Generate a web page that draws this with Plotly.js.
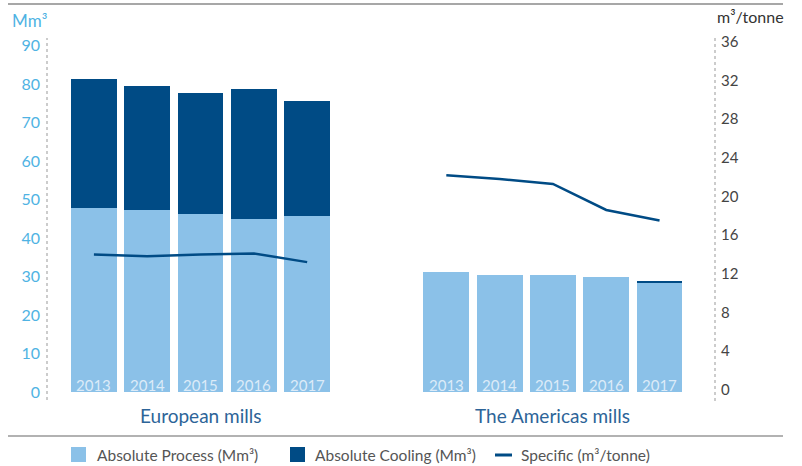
<!DOCTYPE html>
<html>
<head>
<meta charset="utf-8">
<script src="https://cdn.plot.ly/plotly-3.0.1.min.js"></script>
<style>html,body{margin:0;padding:0;background:#fff;}#chart{width:802px;height:466px;}</style>
</head>
<body>
<div id="chart"></div>
<script>
// ---- data ----
const years = ['2013', '2014', '2015', '2016', '2017'];
const groups = ['European mills', 'The Americas mills'];
const euProcess = [47.8, 47.3, 46.2, 44.9, 45.7];
const euCooling = [33.5, 32.2, 31.5, 33.8, 29.9];
const amProcess = [31.1, 30.4, 30.4, 29.8, 28.4];
const amCooling = [0, 0, 0, 0, 0.3];
const euSpecific = [14.0, 13.8, 14.0, 14.1, 13.2];
const amSpecific = [22.2, 21.8, 21.3, 18.6, 17.5];
const leftTicks = [0, 10, 20, 30, 40, 50, 60, 70, 80, 90];
const rightTicks = [0, 4, 8, 12, 16, 20, 24, 28, 32, 36];
const seriesNames = ['Absolute Process (Mm\u00b3)', 'Absolute Cooling (Mm\u00b3)', 'Specific (m\u00b3/tonne)'];

// ---- styling / layout helpers ----
const LIGHT = '#8bc1e8', DARK = '#004b85';
const FONT = 'Lato, "Open Sans", sans-serif';
const W = 802, H = 466, ML = 47, MR = 87, MT = 38, MB = 66;
const PW = W - ML - MR, PH = H - MT - MB;
const px = x => (x - ML) / PW;
const py = y => (H - MB - y) / PH;
const GAP = 6.61;
const euX = years.map((_, i) => i);
const amX = years.map((_, i) => i + GAP);
const allX = euX.concat(amX);

const traces = [
  {type: 'bar', x: allX, y: euProcess.concat(amProcess), name: seriesNames[0],
   marker: {color: LIGHT}, width: 0.86, hoverinfo: 'y'},
  {type: 'bar', x: allX, y: euCooling.concat(amCooling), name: seriesNames[1],
   marker: {color: DARK}, width: 0.86, hoverinfo: 'y'},
  {type: 'scatter', mode: 'lines', x: euX, y: euSpecific, yaxis: 'y2', name: seriesNames[2],
   line: {color: DARK, width: 2.5}},
  {type: 'scatter', mode: 'lines', x: amX, y: amSpecific, yaxis: 'y2', name: seriesNames[2],
   line: {color: DARK, width: 2.5}, showlegend: false}
];

const annotations = [];
allX.forEach((x, i) => {
  annotations.push({x: x, y: 0, xref: 'x', yref: 'y', text: years[i % years.length],
    showarrow: false, yanchor: 'middle', yshift: 7,
    font: {family: FONT, size: 15, color: '#dcebf8'}});
});
annotations.push({x: 2, y: py(415), xref: 'x', yref: 'paper', text: groups[0], showarrow: false,
  yanchor: 'middle', font: {family: FONT, size: 19, color: '#2d6498'}});
annotations.push({x: 2 + GAP, y: py(415), xref: 'x', yref: 'paper', text: groups[1], showarrow: false,
  yanchor: 'middle', font: {family: FONT, size: 19, color: '#2d6498'}});
annotations.push({x: px(10), y: py(20), xref: 'paper', yref: 'paper', text: 'Mm\u00b3', showarrow: false,
  xanchor: 'left', yanchor: 'middle', font: {family: FONT, size: 17, color: '#4fb3e3'}});
annotations.push({x: px(715), y: py(16), xref: 'paper', yref: 'paper', text: 'm\u00b3/tonne', showarrow: false,
  xanchor: 'left', yanchor: 'middle', font: {family: FONT, size: 16, color: '#333'}});
// legend texts
const legX = [95, 313, 519];
legX.forEach((lx, i) => {
  annotations.push({x: px(lx), y: py(455), xref: 'paper', yref: 'paper', text: seriesNames[i], showarrow: false,
    xanchor: 'left', yanchor: 'middle', font: {family: FONT, size: 15.5, color: '#555'}});
});

const shapes = [
  {type: 'line', xref: 'paper', yref: 'paper', x0: px(8), x1: px(783), y0: py(4), y1: py(4),
   line: {color: '#8a8a8a', width: 1.5}},
  {type: 'line', xref: 'paper', yref: 'paper', x0: px(8), x1: px(783), y0: py(436), y1: py(436),
   line: {color: '#999', width: 1.5}},
  {type: 'line', xref: 'paper', yref: 'paper', x0: 0, x1: 0, y0: py(400), y1: py(38),
   line: {color: '#999', width: 1, dash: 'dot'}},
  {type: 'line', xref: 'paper', yref: 'paper', x0: 1, x1: 1, y0: py(401), y1: py(37),
   line: {color: '#999', width: 1, dash: 'dot'}},
  {type: 'rect', xref: 'paper', yref: 'paper', x0: px(71), x1: px(86), y0: py(462), y1: py(447),
   fillcolor: LIGHT, line: {width: 0}},
  {type: 'rect', xref: 'paper', yref: 'paper', x0: px(290), x1: px(305), y0: py(462), y1: py(447),
   fillcolor: DARK, line: {width: 0}},
  {type: 'line', xref: 'paper', yref: 'paper', x0: px(495), x1: px(512), y0: py(455), y1: py(455),
   line: {color: DARK, width: 3}}
];

const layout = {
  width: W, height: H,
  margin: {l: ML, r: MR, t: MT, b: MB, pad: 0},
  paper_bgcolor: '#fff', plot_bgcolor: '#fff',
  barmode: 'stack',
  showlegend: false,
  xaxis: {range: [-0.88, 11.65], showticklabels: false, showgrid: false, zeroline: false,
          showline: false, ticks: '', fixedrange: true},
  yaxis: {range: [-2.08, 91.93], tickvals: leftTicks, ticktext: leftTicks.map(String),
          showgrid: false, zeroline: false, showline: false, ticks: '', ticklabelstandoff: 6,
          tickfont: {family: FONT, size: 16, color: '#4fb3e3'}},
  yaxis2: {range: [-1.08, 36.41], tickvals: rightTicks, ticktext: rightTicks.map(String),
           overlaying: 'y', side: 'right', showgrid: false, zeroline: false, showline: false,
           ticks: '', ticklabelstandoff: 5,
           tickfont: {family: FONT, size: 15, color: '#444'}},
  annotations: annotations,
  shapes: shapes
};

Plotly.newPlot('chart', traces, layout, {displayModeBar: false, staticPlot: true});
</script>
</body>
</html>
